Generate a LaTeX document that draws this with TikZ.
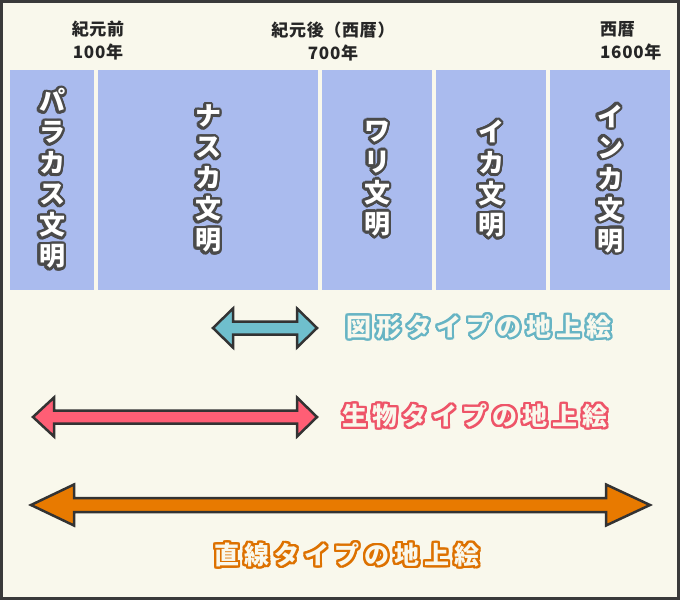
\documentclass[tikz,border=0pt]{standalone}
\usepackage{fontspec}
\usepackage[copies]{contour}
\newfontfamily\jpfont{Noto Sans CJK JP}
\newfontfamily\jpspaced{Noto Sans CJK JP}[LetterSpace=20]
\newfontfamily\jpyear{Noto Sans CJK JP}[LetterSpace=4]

\definecolor{bgcream}{HTML}{F9F8EC}
\definecolor{framegray}{HTML}{3A3A3A}
\definecolor{colblue}{HTML}{AABBEE}
\definecolor{charline}{HTML}{4A4A4A}
\definecolor{arrowline}{HTML}{333333}
\definecolor{tealarrow}{HTML}{6FBFCD}
\definecolor{redarrow}{HTML}{FF5E75}
\definecolor{orangearrow}{HTML}{E87A00}
\definecolor{tealtext}{HTML}{66B4C4}
\definecolor{redtext}{HTML}{EE5468}
\definecolor{orangetext}{HTML}{DD7100}

\contournumber{24}
\newcommand\civ[1]{\contour{charline}{#1}}

\tikzset{
  era/.style={fill=colblue, minimum height=220pt, inner sep=0pt, text=white,
    align=center, font=\jpfont\bfseries\fontsize{26}{31}\selectfont\contourlength{2.6pt}},
  yearlabel/.style={inner sep=0pt, text=black!85,
    font=\jpyear\bfseries\fontsize{17}{23}\selectfont},
  bigarrow/.style={draw=arrowline, line width=2.5pt, line join=miter},
  kind/.style={inner sep=0pt, text=bgcream,
    font=\jpspaced\bfseries\fontsize{25}{25}\selectfont\contourlength{2.2pt}},
}

\begin{document}
\begin{tikzpicture}[x=1pt,y=-1pt]
  \useasboundingbox (0,0) rectangle (680,600);
  \draw[line width=3pt, draw=framegray, fill=bgcream] (1.5,1.5) rectangle (678.5,598.5);

  % civilisations
  \node[era, minimum width=84pt]  (paracas) at (52,180)  {\civ{パ}\\\civ{ラ}\\\civ{カ}\\\civ{ス}\\\civ{文}\\\civ{明}};
  \node[era, minimum width=220pt] (nasca)   at (208,180) {\civ{ナ}\\\civ{ス}\\\civ{カ}\\\civ{文}\\\civ{明}};
  \node[era, minimum width=110pt] (wari)    at (377,180) {\civ{ワ}\\\civ{リ}\\\civ{文}\\\civ{明}};
  \node[era, minimum width=110pt] (ica)     at (491,180) {\civ{イ}\\\civ{カ}\\\civ{文}\\\civ{明}};
  \node[era, minimum width=120pt] (inca)    at (610,180) {\civ{イ}\\\civ{ン}\\\civ{カ}\\\civ{文}\\\civ{明}};

  % years
  \node[yearlabel, align=center] (bc100)  at (98,41)  {紀元前\\100年};
  \node[yearlabel, align=center] (ad700)  at (333,41) {紀元後（西暦）\\700年};
  \node[yearlabel, align=left, anchor=west] (ad1600) at (600,41) {西暦\\1600年};

  % arrows
  \draw[bigarrow, fill=tealarrow] (213,328) -- (233,308.5) -- (233,321.5) -- (297,321.5) -- (297,308.5)
    -- (317,328) -- (297,347.5) -- (297,334.5) -- (233,334.5) -- (233,347.5) -- cycle;
  \draw[bigarrow, fill=redarrow] (33,417) -- (54,397.5) -- (54,410.5) -- (297,410.5) -- (297,397.5)
    -- (317,417) -- (297,436.5) -- (297,423.5) -- (54,423.5) -- (54,436.5) -- cycle;
  \draw[bigarrow, fill=orangearrow] (31,505) -- (74,484.5) -- (74,498) -- (606,498) -- (606,484.5)
    -- (650,505) -- (606,525.5) -- (606,512) -- (74,512) -- (74,525.5) -- cycle;

  \node[kind] (figure)  at (479,328) {\contour{tealtext}{図形タイプの地上絵}};
  \node[kind] (animal)  at (475,417) {\contour{redtext}{生物タイプの地上絵}};
  \node[kind] (linear)  at (347,556) {\contour{orangetext}{直線タイプの地上絵}};
\end{tikzpicture}
\end{document}
